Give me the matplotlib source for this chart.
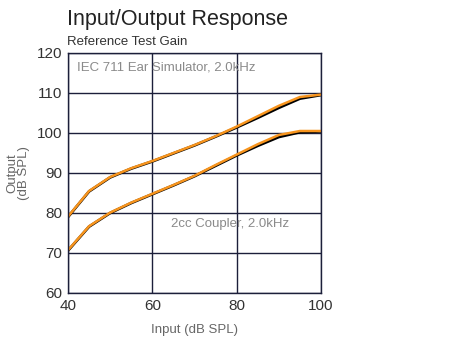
import numpy as np
import matplotlib.pyplot as plt

plt.rcParams['font.family'] = ['Liberation Sans', 'DejaVu Sans']

# input level (dB SPL)
spl_in = [40, 45, 50, 55, 60, 65, 70, 75, 80, 85, 90, 95, 100]

# IEC 711 ear simulator, measured (black) and reference (orange)
ear_meas = [79.0, 85.4, 88.9, 91.1, 92.9, 94.9, 96.9, 99.1, 101.4, 103.8, 106.3, 108.6, 109.5]
ear_ref = [79.1, 85.5, 89.0, 91.2, 93.0, 95.0, 97.0, 99.2, 101.6, 104.2, 106.8, 109.0, 109.6]

# 2cc coupler, measured (black) and reference (orange)
cpl_meas = [70.6, 76.6, 80.0, 82.5, 84.7, 86.9, 89.2, 91.8, 94.4, 96.8, 99.0, 100.2, 100.4]
cpl_ref = [70.7, 76.7, 80.1, 82.6, 84.8, 87.0, 89.3, 92.0, 94.6, 97.2, 99.5, 100.5, 100.5]

grid_col = '#1c1f3a'
text_col = '#333333'

fig = plt.figure(figsize=(4.64, 3.37), dpi=100)
ax = fig.add_axes([68/464, 1 - 293/337, 253/464, 240/337])

ax.plot(spl_in, ear_meas, color='black', lw=2.0)
ax.plot(spl_in, ear_ref, color='#f7941d', lw=1.8)
ax.plot(spl_in, cpl_meas, color='black', lw=2.0)
ax.plot(spl_in, cpl_ref, color='#f7941d', lw=1.8)

ax.set_xlim(40, 100)
ax.set_ylim(60, 120)
ax.set_xticks([40, 60, 80, 100])
ax.set_yticks([60, 70, 80, 90, 100, 110, 120])
ax.grid(True, color=grid_col, lw=1.0)
for s in ax.spines.values():
    s.set_color(grid_col)
    s.set_linewidth(1.0)
ax.tick_params(length=0, labelsize=11, colors=text_col, pad=4)

ax.set_xlabel('Input (dB SPL)', fontsize=9.5, color='#666666', labelpad=8)
ax.set_ylabel('Output\n(dB SPL)', fontsize=9.5, color='#666666', labelpad=5, linespacing=1.0)

ax.text(42.2, 116.5, 'IEC 711 Ear Simulator, 2.0kHz', fontsize=9.5, color='#8a8a8a', va='center')
ax.text(64.5, 77.3, '2cc Coupler, 2.0kHz', fontsize=9.5, color='#8a8a8a', va='center')

fig.text(67/464, 1 - 19/337, 'Input/Output Response', fontsize=15.5, color='#222222', va='center')
fig.text(67/464, 1 - 42/337, 'Reference Test Gain', fontsize=9.5, color='#333333', va='center')

fig.savefig('out.png', dpi=100)
